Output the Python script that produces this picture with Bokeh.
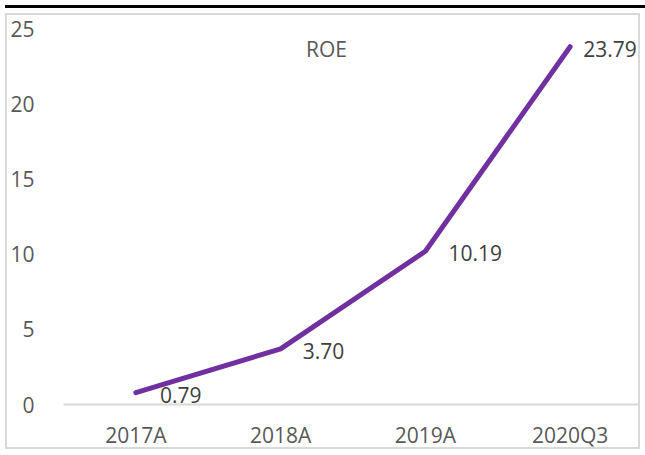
from bokeh.plotting import figure
from bokeh.models import FactorRange, Range1d, Label, ColumnDataSource, Div, SingleIntervalTicker
from bokeh.layouts import column
from bokeh.core.properties import value
from bokeh.embed import file_html
from bokeh.resources import INLINE

categories = ["2017A", "2018A", "2019A", "2020Q3"]
roe = [0.79, 3.70, 10.19, 23.79]
roe_labels = ["0.79", "3.70", "10.19", "23.79"]
title_text = "ROE"

# label placement (style only)
label_dx = [24, 22, 23, 13]

FONT = "Open Sans"

src = ColumnDataSource(dict(x=categories, y=roe, t=roe_labels, dx=label_dx))

p = figure(x_range=FactorRange(*categories, range_padding=0), y_range=Range1d(0, 25),
           width=635, height=436, output_backend="svg", toolbar_location=None,
           min_border_left=49, min_border_right=0, min_border_top=13, min_border_bottom=42)
p.styles = {"border": "2px solid #d9d9d9", "margin-left": "5px"}
p.outline_line_color = None
p.xgrid.visible = False
p.ygrid.visible = False

p.yaxis.ticker = SingleIntervalTicker(interval=5)
p.yaxis.axis_line_color = None
p.yaxis.major_tick_line_color = None
p.yaxis.minor_tick_line_color = None
p.yaxis.major_label_standoff = 23
p.yaxis.major_label_text_font = FONT
p.yaxis.major_label_text_font_size = "21px"
p.yaxis.major_label_text_color = "#595959"

p.xaxis.axis_line_color = "#d9d9d9"
p.xaxis.axis_line_width = 2
p.xaxis.major_tick_line_color = None
p.xaxis.minor_tick_line_color = None
p.xaxis.major_label_standoff = 10
p.xaxis.major_label_text_font = FONT
p.xaxis.major_label_text_font_size = "21px"
p.xaxis.major_label_text_color = "#595959"

p.line("x", "y", source=src, line_color="#7030A0", line_width=5, line_cap="round", line_join="round")
p.text("x", "y", text="t", source=src, x_offset="dx", y_offset=2, text_align="left",
       text_baseline="middle", text_font=value(FONT), text_font_size="21px", text_color="#404040")

p.add_layout(Label(x=263, y=356, x_units="screen", y_units="screen", text=title_text,
                   text_align="center", text_baseline="middle", text_font=FONT,
                   text_font_size="21px", text_color="#595959"))

bar = Div(width=640, height=3, styles={"background-color": "black"})
layout = column(bar, p, spacing=0)

open("out.html", "w").write(file_html(layout, INLINE))
